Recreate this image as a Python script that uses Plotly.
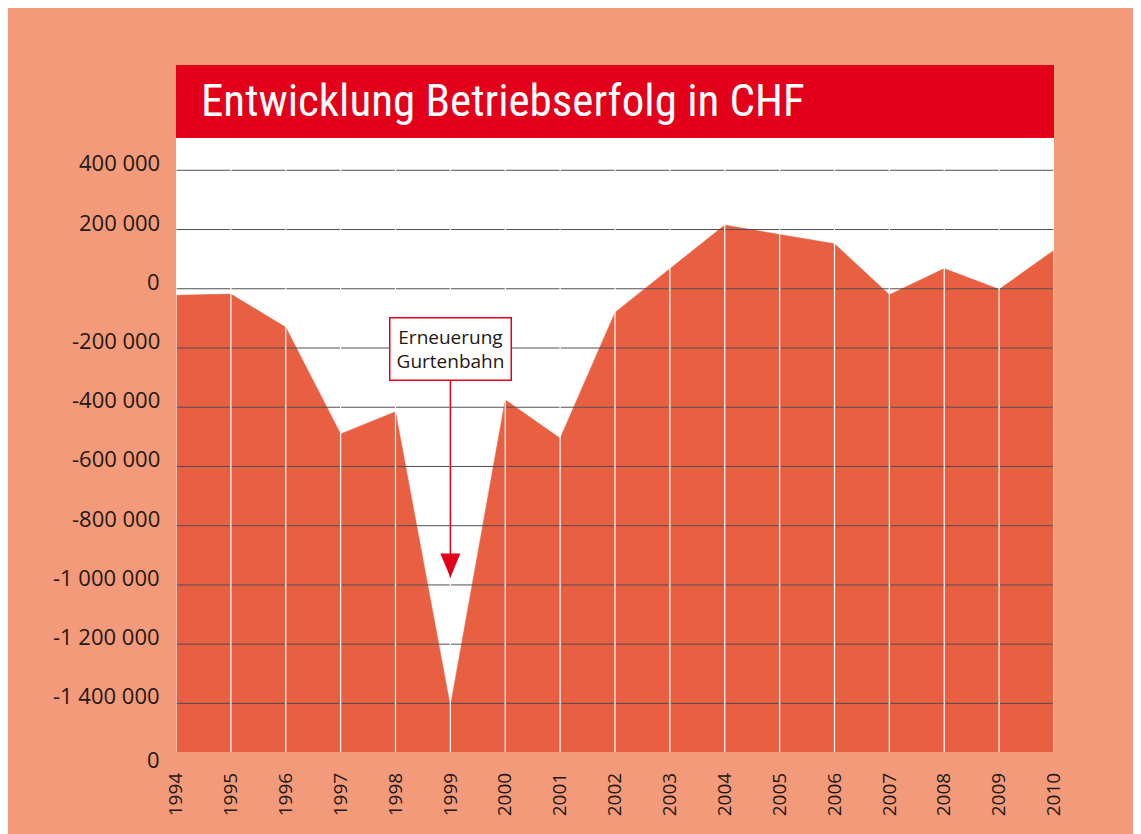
import plotly.graph_objects as go

# ---------------- data ----------------
years = list(range(1994, 2011))
result_chf = [-22000, -18000, -130000, -490000, -415000, -1410000, -375000,
              -505000, -80000, 68000, 215000, 183000, 152000, -20000, 68000,
              -2000, 130000]

y_tick_values = [400000, 200000, 0, -200000, -400000, -600000, -800000,
                 -1000000, -1200000, -1400000]
y_tick_labels = ["400 000", "200 000", "0", "-200 000", "-400 000", "-600 000",
                 "-800 000", "-1 000 000", "-1 200 000", "-1 400 000"]
x_tick_labels = [str(y) for y in years]

axis_floor = -1564000
axis_ceiling = 509000
floor_label = "0"

title_text = "Entwicklung Betriebserfolg in CHF"
note_text = "Erneuerung<br>Gurtenbahn"
note_year = 1999
note_tip = -975000

# ---------------- styles ----------------
BG = "#F29A7A"
AREA = "#E95F41"
RED = "#E2001A"
TXT = "#231815"
GRID = "#505050"
FONT = "Open Sans, Lato, sans-serif"
TITLE_FONT = "Roboto Condensed, Roboto, sans-serif"

W, H = 1141, 834
ML, MR, MT, MB = 168, 95, 130, 90
PH = H - MT - MB

fig = go.Figure()

# baseline (bottom of the axis) for the area fill
fig.add_trace(go.Scatter(
    x=years, y=[axis_floor] * len(years), mode="lines",
    line=dict(width=0, color=AREA), hoverinfo="skip", showlegend=False))
fig.add_trace(go.Scatter(
    x=years, y=result_chf, mode="lines", fill="tonexty",
    fillcolor=AREA, line=dict(width=0.5, color=AREA),
    showlegend=False))

shapes = []
# horizontal gridlines above the area
for v in y_tick_values:
    shapes.append(dict(type="line", xref="paper", x0=0, x1=1, yref="y",
                       y0=v, y1=v, line=dict(color=GRID, width=1),
                       layer="above"))
# white vertical year lines
for yr in years:
    shapes.append(dict(type="line", xref="x", x0=yr, x1=yr, yref="paper",
                       y0=0, y1=1, line=dict(color="white", width=1.2),
                       layer="above"))
# title band
shapes.append(dict(type="rect", xref="paper", x0=0, x1=1, yref="paper",
                   y0=1, y1=1 + 73 / PH, fillcolor=RED,
                   line=dict(width=0), layer="above"))
# arrow head triangle
shapes.append(dict(type="path", xref="x", yref="y",
                   xsizemode="pixel", ysizemode="pixel",
                   xanchor=note_year, yanchor=note_tip,
                   path="M-10,24 L10,24 L0,0 Z",
                   fillcolor=RED, line=dict(width=0), layer="above"))

annotations = []
annotations.append(dict(
    text=title_text, xref="paper", x=0, xshift=23, xanchor="left",
    yref="paper", y=1 + 37 / PH, yanchor="middle", showarrow=False,
    font=dict(family=TITLE_FONT, size=45, color="white")))

for v, lab in zip(y_tick_values, y_tick_labels):
    annotations.append(dict(
        text=lab, xref="paper", x=0, xshift=-14, xanchor="right",
        yref="y", y=v, yanchor="middle", yshift=8, showarrow=False,
        font=dict(family=FONT, size=22, color=TXT)))
annotations.append(dict(
    text=floor_label, xref="paper", x=0, xshift=-14, xanchor="right",
    yref="y", y=axis_floor, yanchor="middle", yshift=-7, showarrow=False,
    font=dict(family=FONT, size=22, color=TXT)))

annotations.append(dict(
    text=note_text, x=note_year, y=note_tip, xref="x", yref="y",
    ax=0, ay=-229, showarrow=True, arrowhead=0, arrowwidth=1.5,
    arrowcolor=RED, standoff=0,
    bgcolor="white", bordercolor=RED, borderwidth=1.5, borderpad=5,
    width=110, align="center",
    font=dict(family=FONT, size=19, color=TXT)))

fig.update_layout(
    width=W, height=H, autosize=False,
    paper_bgcolor=BG, plot_bgcolor="white",
    margin=dict(l=ML, r=MR, t=MT, b=MB),
    shapes=shapes, annotations=annotations,
    xaxis=dict(range=[years[0], years[-1]], tickvals=years,
               ticktext=x_tick_labels, tickangle=-90, showgrid=False,
               zeroline=False, showline=False, ticks="",
               ticklabelstandoff=16,
               tickfont=dict(family=FONT, size=19, color=TXT)),
    yaxis=dict(range=[axis_floor, axis_ceiling], showticklabels=False,
               showgrid=False, zeroline=False, showline=False, ticks=""),
)

fig.write_html("out.html")
